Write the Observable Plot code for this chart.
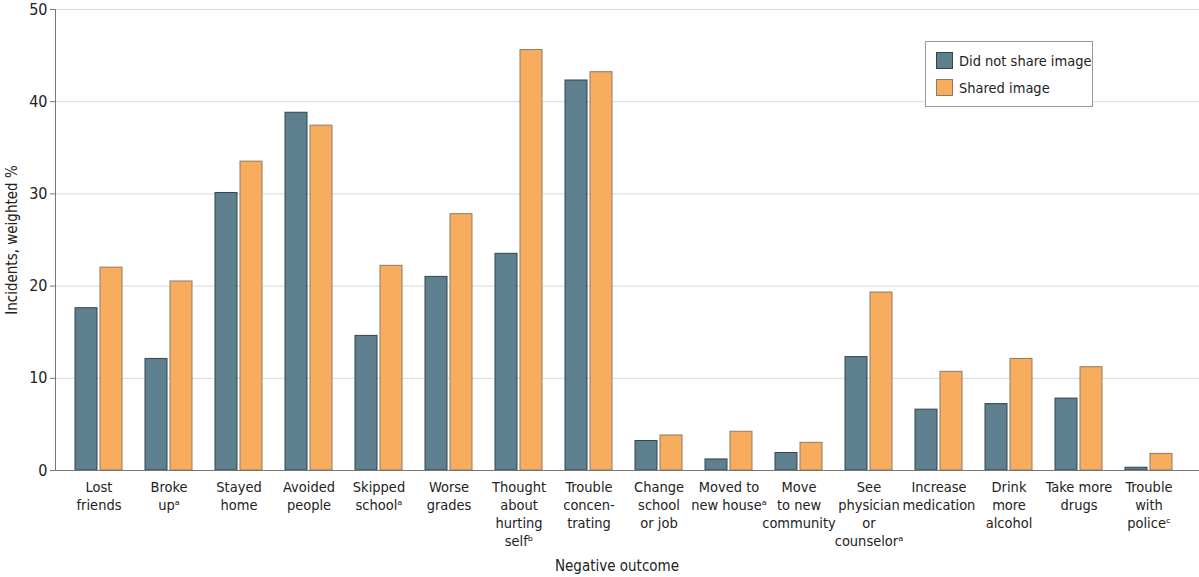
<!DOCTYPE html>
<html>
<head>
<meta charset="utf-8">
<script src="https://cdn.jsdelivr.net/npm/d3@7"></script>
<script src="https://cdn.jsdelivr.net/npm/@observablehq/plot@0.6"></script>
<style>
  html, body { margin: 0; padding: 0; background: #fff; }
  #wrap { position: relative; width: 1199px; height: 577px; font-family: "Liberation Sans Narrow", "DejaVu Sans Condensed", sans-serif; }
  #legend { position: absolute; left: 925px; top: 41px; width: 166px; height: 64px; border: 1px solid #999; background: #fff; font-size: 14.5px; color: #222; }
  .item { position: absolute; left: 10px; display: flex; align-items: center; white-space: nowrap; }
  .sw { width: 17px; height: 17px; box-sizing: border-box; margin-right: 6px; flex: none; }
  #ytitle { position: absolute; left: 12px; top: 240px; transform: translate(-50%, -50%) rotate(-90deg); font-size: 15px; color: #222; white-space: nowrap; }
  #xtitle { position: absolute; left: 617px; top: 566px; transform: translate(-50%, -50%); font-size: 15px; color: #222; white-space: nowrap; }
</style>
</head>
<body>
<div id="wrap">
  <div id="chart"></div>
  <div id="legend">
    <div class="item" style="top:10px"><div class="sw" style="background:#5e7f8e;border:1px solid #33444c"></div>Did not share image</div>
    <div class="item" style="top:37px"><div class="sw" style="background:#f8ac5e;border:1px solid #8c7b68"></div>Shared image</div>
  </div>
  <div id="ytitle">Incidents, weighted %</div>
  <div id="xtitle">Negative outcome</div>
</div>
<script>
const categories = [
  "Lost\nfriends", "Broke\nupᵃ", "Stayed\nhome", "Avoided\npeople", "Skipped\nschoolᵃ",
  "Worse\ngrades", "Thought\nabout\nhurting\nselfᵇ", "Trouble\nconcen-\ntrating",
  "Change\nschool\nor job", "Moved to\nnew houseᵃ", "Move\nto new\ncommunity",
  "See\nphysician\nor\ncounselorᵃ", "Increase\nmedication", "Drink\nmore\nalcohol",
  "Take more\ndrugs", "Trouble\nwith\npoliceᶜ"
];
const didNotShare = [17.6, 12.1, 30.1, 38.8, 14.6, 21.0, 23.5, 42.3, 3.2, 1.2, 1.9, 12.3, 6.6, 7.2, 7.8, 0.3];
const sharedImage = [22.0, 20.5, 33.5, 37.4, 22.2, 27.8, 45.6, 43.2, 3.8, 4.2, 3.0, 19.3, 10.7, 12.1, 11.2, 1.8];
const yTicks = [0, 10, 20, 30, 40, 50];

const rowsA = categories.map((c, i) => ({category: c, value: didNotShare[i]}));
const rowsB = categories.map((c, i) => ({category: c, value: sharedImage[i]}));

const bandwidth = 47;
const half = bandwidth / 2 + 1.5;

const chart = Plot.plot({
  width: 1199,
  height: 577,
  marginLeft: 55,
  marginRight: 0,
  marginTop: 9,
  marginBottom: 107,
  style: {fontFamily: '"Liberation Sans Narrow", "DejaVu Sans Condensed", sans-serif', fontSize: "15px", color: "#222"},
  x: {domain: categories, range: [55, 1192], paddingInner: 0.33, paddingOuter: 0.27, label: null},
  y: {domain: [0, 50], label: null},
  marks: [
    Plot.gridY(yTicks, {stroke: "#d9d9d9", strokeOpacity: 1}),
    Plot.barY(rowsA, {x: "category", y: "value", fill: "#5e7f8e", stroke: "#33444c", strokeWidth: 1, insetRight: half}),
    Plot.barY(rowsB, {x: "category", y: "value", fill: "#f8ac5e", stroke: "#8c7b68", strokeWidth: 1, insetLeft: half}),
    Plot.ruleY([0], {stroke: "#777"}),
    Plot.frame({anchor: "left", stroke: "#777"}),
    Plot.axisY(yTicks, {tickSize: 5, tickPadding: 3, fontSize: 16, stroke: "#777"}),
    Plot.axisX({tickSize: 0, tickPadding: 9, fontSize: 14.5, lineHeight: 1.24})
  ]
});
document.getElementById("chart").appendChild(chart);
</script>
</body>
</html>
